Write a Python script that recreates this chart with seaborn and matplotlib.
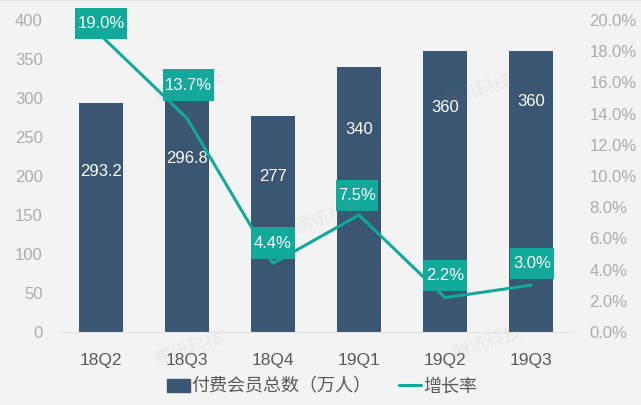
import matplotlib
matplotlib.use('Agg')
import matplotlib.pyplot as plt
import seaborn as sns
import pandas as pd
from matplotlib.lines import Line2D
from matplotlib.patches import Patch, Rectangle

quarters = ['18Q2', '18Q3', '18Q4', '19Q1', '19Q2', '19Q3']
members = [293.2, 296.8, 277, 340, 360, 360]
member_labels = ['293.2', '296.8', '277', '340', '360', '360']
growth = [19.0, 13.7, 4.4, 7.5, 2.2, 3.0]
left_ticks = [0, 50, 100, 150, 200, 250, 300, 350, 400]
right_ticks = [0, 2, 4, 6, 8, 10, 12, 14, 16, 18, 20]

# where the white bar numbers sit, left axis units
bar_label_y = [206, 222, 199, 260, 288, 295]
# teal label boxes: x shift, y shift (right axis units), width in categories
box_dx = [0, 0.02, 0, -0.02, 0, 0.01]
box_dy = [0.8, 2.13, 1.3, 1.25, 1.44, 1.4]
box_w = [0.6, 0.59, 0.51, 0.49, 0.51, 0.51]
BOX_H = 2.0

BG = '#F3F3F3'
BAR = '#3A5673'
TEAL = '#10A99A'
GREY = '#AFABAB'
DARK = '#595959'

sns.set_style('white')
plt.rcParams['font.family'] = ['Liberation Sans', 'Noto Sans CJK SC']

df = pd.DataFrame({'quarter': quarters, 'members': members, 'growth': growth})

fig = plt.figure(figsize=(6.41, 4.05), dpi=100, facecolor=BG)
ax = fig.add_axes([58 / 641, 1 - 332 / 405, 516 / 641, 312 / 405], facecolor=BG)

sns.barplot(data=df, x='quarter', y='members', color=BAR, width=0.51, saturation=1, linewidth=0, ax=ax)
ax.set_ylim(0, 400)
ax.set_xlim(-0.5, 5.5)
ax.set_yticks(left_ticks)
ax.set_xlabel('')
ax.set_ylabel('')
ax.tick_params(axis='y', length=0, labelsize=12, labelcolor=GREY, pad=11)
ax.tick_params(axis='x', length=0, labelsize=12.5, labelcolor=DARK, pad=15)
for s in ['top', 'left', 'right']:
    ax.spines[s].set_visible(False)
ax.spines['bottom'].set_color('#E2E2E2')

for i, lab in enumerate(member_labels):
    ax.text(i, bar_label_y[i], lab, color='white', fontsize=12, ha='center', va='center', zorder=2)

ax2 = ax.twinx()
sns.lineplot(data=df, x='quarter', y='growth', color=TEAL, linewidth=2.2, sort=False, ax=ax2, zorder=3)
ax2.set_ylim(0, 20)
ax2.set_yticks(right_ticks)
ax2.set_yticklabels([f'{v:.1f}%' for v in right_ticks])
ax2.set_ylabel('')
ax2.set_xlabel('')
ax2.tick_params(axis='y', length=0, labelsize=12, labelcolor=GREY, pad=11)
for s in ax2.spines.values():
    s.set_visible(False)

for i, g in enumerate(growth):
    cx = i + box_dx[i]
    cy = g + box_dy[i]
    ax2.add_patch(Rectangle((cx - box_w[i] / 2, cy - BOX_H / 2), box_w[i], BOX_H, fc=TEAL, ec='none',
                            zorder=4, clip_on=False))
    ax2.text(cx, cy, f'{g:.1f}%', color='white', fontsize=12, ha='center', va='center', zorder=5)

# faint watermark
for x, y in [(190, 350), (190, 88), (488, 344), (330, 218), (478, 92)]:
    fig.text(x / 641, 1 - y / 405, '腾讯科技', color='#9A9A9A', alpha=0.12, fontsize=13,
             rotation=18, ha='center', va='center')

# thin light strip along the top edge
fig.add_artist(Line2D([0, 1], [0.999, 0.999], color='#E4E4E4', lw=1))

handles = [Patch(color=BAR), Line2D([0], [0], color=TEAL, lw=2.2)]
fig.legend(handles, ['付费会员总数（万人）', '增长率'], loc='center', bbox_to_anchor=(322 / 641, 1 - 387 / 405),
           ncol=2, frameon=False, fontsize=13, labelcolor=DARK, handlelength=1.25, handleheight=0.7,
           columnspacing=1.5, handletextpad=0.1, borderpad=0)

fig.savefig('out.png', dpi=100, facecolor=BG)
